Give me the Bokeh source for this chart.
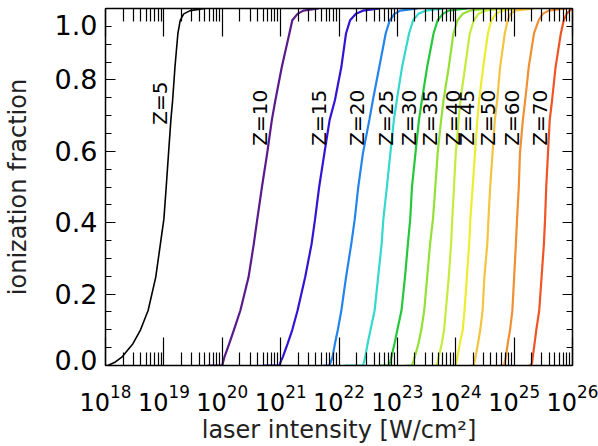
import numpy as np
from bokeh.plotting import figure
from bokeh.models import (LogAxis, LinearAxis, FixedTicker, Range1d, ColumnDataSource,
                          PrintfTickFormatter, CustomJSTickFormatter)
from bokeh.core.properties import value
from bokeh.embed import file_html
from bokeh.resources import INLINE

FONT = "DejaVu Sans"

# ionization fraction levels shared by every curve
LEVELS = [0, 0, 0.01, 0.025, 0.061, 0.1, 0.154, 0.247, 0.34, 0.41, 0.50, 0.595,
          0.688, 0.743, 0.836, 0.93, 0.967, 0.985, 0.994, 1.0]

# log10(laser intensity [W/cm^2]) at each level, per charge state Z
Z_VALUES = [5, 10, 15, 20, 25, 30, 35, 40, 45, 50, 60, 70]
LOGI_Z5 = [18.0, 18.04, 18.17, 18.29, 18.47, 18.60, 18.73, 18.86, 18.94, 19.00, 19.04, 19.08, 19.12, 19.15, 19.19, 19.24, 19.28, 19.34, 19.45, 19.7]
LOGI_Z10 = [19.75, 20.0, 20.015, 20.04, 20.12, 20.20, 20.31, 20.45, 20.54, 20.60, 20.68, 20.77, 20.85, 20.91, 21.02, 21.15, 21.20, 21.29, 21.39, 21.65]
LOGI_Z15 = [20.71, 20.98, 21.0, 21.04, 21.12, 21.20, 21.29, 21.42, 21.53, 21.59, 21.66, 21.75, 21.84, 21.93, 22.04, 22.12, 22.19, 22.29, 22.41, 22.7]
LOGI_Z20 = [21.73, 21.83, 21.86, 21.89, 21.93, 21.98, 22.04, 22.12, 22.21, 22.27, 22.33, 22.41, 22.52, 22.58, 22.69, 22.80, 22.87, 22.95, 23.05, 23.35]
LOGI_Z25 = [22.10, 22.41, 22.43, 22.45, 22.49, 22.54, 22.61, 22.67, 22.73, 22.76, 22.82, 22.88, 22.94, 22.99, 23.08, 23.20, 23.27, 23.36, 23.48, 23.8]
LOGI_Z30 = [22.71, 22.85, 22.88, 22.90, 22.95, 23.0, 23.07, 23.13, 23.18, 23.22, 23.25, 23.31, 23.37, 23.42, 23.51, 23.62, 23.69, 23.78, 23.88, 24.2]
LOGI_Z35 = [23.14, 23.25, 23.27, 23.30, 23.36, 23.41, 23.46, 23.51, 23.56, 23.61, 23.65, 23.69, 23.75, 23.79, 23.88, 23.96, 24.03, 24.12, 24.24, 24.6]
LOGI_Z40 = [23.62, 23.68, 23.69, 23.71, 23.76, 23.80, 23.83, 23.88, 23.92, 23.94, 23.97, 24.0, 24.05, 24.08, 24.16, 24.24, 24.31, 24.39, 24.50, 24.85]
LOGI_Z45 = [23.93, 24.0, 24.01, 24.03, 24.07, 24.12, 24.15, 24.19, 24.23, 24.25, 24.29, 24.33, 24.37, 24.40, 24.47, 24.55, 24.61, 24.69, 24.79, 25.1]
LOGI_Z50 = [24.24, 24.31, 24.32, 24.34, 24.38, 24.42, 24.46, 24.49, 24.54, 24.56, 24.59, 24.63, 24.67, 24.71, 24.76, 24.84, 24.89, 24.94, 25.01, 25.35]
LOGI_Z60 = [24.75, 24.83, 24.84, 24.86, 24.89, 24.93, 24.97, 25.0, 25.03, 25.05, 25.08, 25.10, 25.15, 25.19, 25.25, 25.34, 25.42, 25.49, 25.59, 25.9]
LOGI_Z70 = [25.25, 25.29, 25.31, 25.32, 25.35, 25.38, 25.43, 25.47, 25.51, 25.53, 25.55, 25.58, 25.61, 25.65, 25.71, 25.80, 25.85, 25.90, 25.95, 26.0]
CURVES = [LOGI_Z5, LOGI_Z10, LOGI_Z15, LOGI_Z20, LOGI_Z25, LOGI_Z30,
          LOGI_Z35, LOGI_Z40, LOGI_Z45, LOGI_Z50, LOGI_Z60, LOGI_Z70]
COLORS = ["#000000", "#5a1a8c", "#3414d4", "#2484ec", "#34d8cc", "#24c838",
          "#94e034", "#c4ec3c", "#ecec30", "#f4c440", "#f09034", "#f05424"]

# curve annotations
LABEL_TEXT = ["Z=%d" % z for z in Z_VALUES]
LABEL_LOGI = [18.93, 20.64, 21.66, 22.31, 22.81, 23.20, 23.56, 23.95, 24.20, 24.56, 24.97, 25.44]
LABEL_FRAC = [0.735, 0.694, 0.694, 0.694, 0.694, 0.694, 0.694, 0.694, 0.694, 0.694, 0.694, 0.694]

# ticks
X_EXPONENTS = list(range(18, 27))
X_MINOR_MULT = [2, 3, 4, 5, 6, 7, 8, 9]
Y_MAJOR = [0.0, 0.2, 0.4, 0.6, 0.8, 1.0]
Y_MINOR = [round(0.05 * i, 2) for i in range(21)]

x_major = [10.0 ** e for e in X_EXPONENTS]
x_minor = [m * 10.0 ** e for e in X_EXPONENTS[:-1] for m in X_MINOR_MULT]

p = figure(width=598, height=446, x_axis_type="log",
           x_range=Range1d(1e18, 1e26), y_range=Range1d(0, 1),
           output_backend="svg", toolbar_location=None,
           min_border_left=100, min_border_right=26,
           min_border_top=8, min_border_bottom=79)
p.grid.visible = False
p.outline_line_color = None
p.background_fill_color = "white"
p.border_fill_color = "white"

for logi, col in zip(CURVES, COLORS):
    lw = 1.6 if col == "#000000" else 2.2
    p.line(x=[10.0 ** v for v in logi], y=LEVELS, line_color=col, line_width=lw)

src = ColumnDataSource(dict(x=[10.0 ** v for v in LABEL_LOGI], y=LABEL_FRAC, t=LABEL_TEXT))
p.text(x="x", y="y", text="t", source=src, angle=np.pi / 2, text_align="center",
       text_baseline="middle", text_font=value(FONT), text_font_size="20px",
       text_color="black")

xt = FixedTicker(ticks=x_major, minor_ticks=x_minor)
yt = FixedTicker(ticks=Y_MAJOR, minor_ticks=Y_MINOR)


def style_x(ax):
    ax.ticker = xt
    ax.major_tick_in = 28
    ax.major_tick_out = 0
    ax.minor_tick_in = 13
    ax.minor_tick_out = 0
    ax.axis_line_width = 1.5
    ax.major_tick_line_width = 1.2
    ax.minor_tick_line_width = 1.2


def style_y(ax):
    ax.ticker = yt
    ax.major_tick_in = 10
    ax.major_tick_out = 0
    ax.minor_tick_in = 6
    ax.minor_tick_out = 0
    ax.axis_line_width = 1.5
    ax.major_tick_line_width = 1.2
    ax.minor_tick_line_width = 1.2


bx = p.xaxis[0]
style_x(bx)
bx.major_label_text_font = FONT
bx.major_label_text_font_size = "24px"
bx.major_label_text_color = "black"
bx.major_label_standoff = 18
bx.axis_label = "laser intensity [W/cm²]"
bx.axis_label_text_font = FONT
bx.axis_label_text_font_size = "24px"
bx.axis_label_text_font_style = "normal"
bx.axis_label_text_color = "#222222"
bx.axis_label_standoff = 2

ly = p.yaxis[0]
style_y(ly)
ly.formatter = PrintfTickFormatter(format="%.1f")
# end labels nudged inward (blank line above / below), like the original
ly.major_label_overrides = {Y_MAJOR[0]: "%.1f\n" % Y_MAJOR[0],
                            Y_MAJOR[-1]: "\n%.1f" % Y_MAJOR[-1]}
ly.major_label_text_line_height = 0.3
ly.major_label_text_font = FONT
ly.major_label_text_font_size = "27px"
ly.major_label_text_color = "black"
ly.major_label_standoff = 8
ly.axis_label = "ionization fraction"
ly.axis_label_text_font = FONT
ly.axis_label_text_font_size = "24px"
ly.axis_label_text_font_style = "normal"
ly.axis_label_text_color = "#222222"
ly.axis_label_standoff = 20

blank = CustomJSTickFormatter(code="return ''")
tx = LogAxis()
style_x(tx)
tx.formatter = blank
tx.major_label_text_font_size = "0px"
tx.major_label_standoff = 0
p.add_layout(tx, "above")

ry = LinearAxis()
style_y(ry)
ry.formatter = blank
ry.major_label_text_font_size = "0px"
ry.major_label_standoff = 0
p.add_layout(ry, "right")

open("out.html", "w").write(file_html(p, INLINE))
